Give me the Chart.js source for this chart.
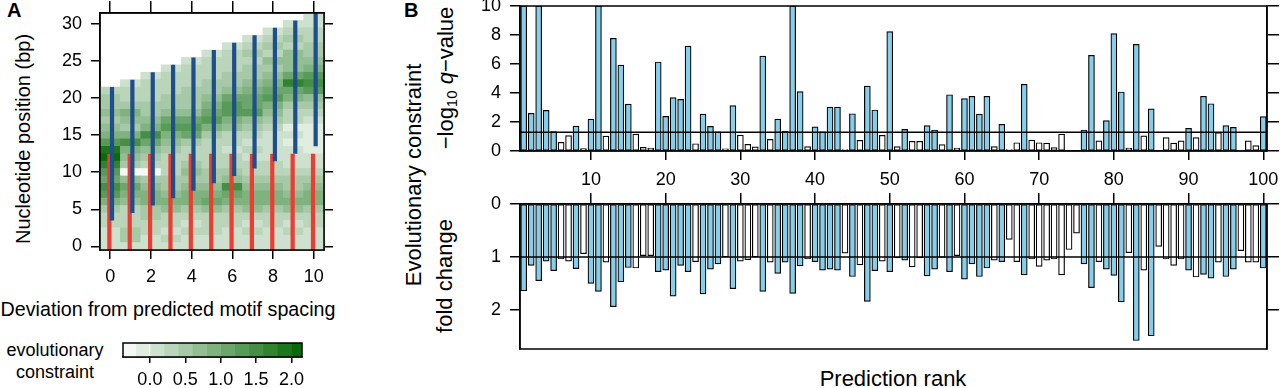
<!DOCTYPE html>
<html>
<head>
<meta charset="utf-8">
<script src="https://cdn.jsdelivr.net/npm/chart.js@4.4.1/dist/chart.umd.min.js"></script>
<style>
  body { margin: 0; width: 1280px; height: 388px; position: relative; overflow: hidden; background: #fff;
         font-family: 'Liberation Sans', Arial, sans-serif; color: #000; }
  canvas { position: absolute; }
  .t { position: absolute; white-space: nowrap; line-height: 1; }
  .rot { transform: translate(-50%, -50%) rotate(-90deg); }
  sub { font-size: 0.68em; vertical-align: -0.28em; line-height: 0; }
</style>
</head>
<body>
<div class="t" style="left:7px;top:0;font-size:20px;font-weight:bold">A</div>
<div class="t" style="left:404px;top:0;font-size:20px;font-weight:bold">B</div>

<div class="t rot" style="left:23px;top:139px;font-size:20px">Nucleotide position (bp)</div>
<div class="t" style="left:0;top:300px;width:336px;text-align:center;font-size:19.7px">Deviation from predicted motif spacing</div>
<div class="t" style="left:0;top:339px;width:110px;text-align:center;font-size:18px;line-height:22px">evolutionary<br>constraint</div>

<div class="t rot" style="left:414px;top:175px;font-size:22px">Evolutionary constraint</div>
<div class="t rot" style="left:446px;top:78px;font-size:22px">&minus;log<sub>10</sub> <i>q</i>&minus;value</div>
<div class="t rot" style="left:445px;top:276px;font-size:22px">fold change</div>
<div class="t" style="left:693px;top:368px;width:400px;text-align:center;font-size:22px">Prediction rank</div>

<canvas id="heat" width="340" height="300" style="left:0;top:0"></canvas>
<canvas id="cbar" width="200" height="55" style="left:113px;top:333px"></canvas>
<canvas id="qval" width="880" height="196" style="left:400px;top:0"></canvas>
<canvas id="fold" width="880" height="200" style="left:400px;top:190px"></canvas>

<script>
// ---- panel A: heat map of constraint per spacing deviation ----
const deviation = ['0', '1', '2', '3', '4', '5', '6', '7', '8', '9', '10'];
const devTicks = [0, 2, 4, 6, 8, 10];
const posTicks = [0, 5, 10, 15, 20, 25, 30];
const nucPos = Array.from({ length: 32 }, (_, i) => i);

// one list per deviation column, rows from position 0 upwards
const heat = [
  [0.0, 0.0, 0.1, 0.2, 0.3, 0.4, 0.8, 1.3, 1.5, 1.1, 1.2, 1.6, 2.0, 1.8, 1.2, 0.9, 0.6, 0.5, 0.6, 0.4, 0.5, 0.2],
  [0.0, 0.5, 0.4, 0.2, 0.3, 0.3, 0.7, 0.9, 1.0, 0.6, -0.4, 0.5, 0.7, 0.8, 1.5, 0.9, 0.5, 0.7, 0.8, 0.4, 0.3, 0.2, 0.1],
  [0.1, 0.1, 0.2, 0.3, 0.4, 0.5, 0.9, 0.8, 0.6, 0.4, -0.4, 0.3, 0.5, 0.6, 1.0, 1.4, 0.8, 0.6, 0.4, 0.5, 0.3, 0.2, 0.2, 0.1],
  [0.1, 0.2, 0.1, 0.3, 0.2, 0.6, 0.9, 0.7, 0.5, 0.4, 0.3, 0.2, 0.3, 0.4, 0.6, 0.8, 1.2, 1.0, 0.6, 0.4, 0.5, 0.3, 0.2, 0.3, 0.1],
  [0.0, 0.1, 0.2, 0.1, 0.3, 0.5, 0.8, 0.9, 0.6, 0.5, 0.7, 0.4, 0.2, 0.3, 0.5, 1.0, 1.3, 1.1, 0.7, 0.5, 0.4, 0.5, 0.3, 0.2, 0.2, 0.1],
  [0.1, 0.0, 0.2, 0.2, 0.3, 0.6, 1.0, 0.8, 0.7, 0.5, 0.4, 0.3, 0.2, 0.3, 0.2, 0.5, 0.9, 1.2, 1.1, 0.8, 0.6, 0.4, 0.5, 0.3, 0.2, 0.3, 0.1],
  [0.0, 0.1, 0.1, 0.2, 0.3, 0.5, 0.9, 1.0, 1.5, 0.7, 0.4, 0.3, 0.2, 0.1, 0.2, 0.3, 0.6, 0.9, 1.2, 1.3, 1.0, 0.6, 0.4, 0.5, 0.3, 0.2, 0.2, 0.1],
  [0.1, 0.1, 0.2, 0.1, 0.3, 0.6, 0.9, 0.8, 0.6, 0.5, 0.3, 0.2, 0.1, 0.2, 0.1, 0.2, 0.4, 0.7, 1.2, 1.0, 1.1, 0.8, 0.6, 0.5, 0.4, 0.3, 0.4, 0.2, 0.1],
  [0.0, 0.1, 0.1, 0.2, 0.3, 0.5, 0.8, 0.9, 0.6, 0.4, 0.3, 0.2, 0.1, 0.0, 0.1, 0.0, 0.2, 0.4, 0.6, 0.9, 1.2, 1.0, 0.8, 0.6, 0.5, 0.6, 0.3, 0.4, 0.2, 0.1],
  [0.1, 0.0, 0.2, 0.1, 0.3, 0.6, 0.9, 0.7, 0.5, 0.4, 0.2, 0.1, 0.0, 0.1, -0.1, 0.0, -0.1, 0.2, 0.3, 0.5, 0.8, 1.1, 1.6, 1.0, 0.7, 0.6, 0.7, 0.3, 0.4, 0.2, 0.1],
  [0.0, 0.1, 0.1, 0.2, 0.3, 0.5, 0.8, 0.9, 0.6, 0.4, 0.2, 0.1, 0.0, -0.1, -0.2, -0.1, -0.2, 0.0, 0.2, 0.5, 0.7, 1.3, 1.5, 1.2, 0.8, 0.6, 0.5, 0.4, 0.3, 0.2, 0.1, 0.0],
];

// motif spans drawn over each column
const redLow   = [-0.5, -0.5, -0.5, -0.5, -0.5, -0.5, -0.5, -0.5, -0.5, -0.5, -0.5];
const redHigh  = [12.5, 12.5, 12.5, 12.5, 12.5, 12.5, 12.5, 12.5, 12.5, 12.5, 12.5];
const blueLow  = [3.5, 4.5, 5.5, 6.5, 7.5, 8.5, 9.5, 10.5, 11.5, 12.5, 13.5];
const blueHigh = [21.5, 22.5, 23.5, 24.5, 25.5, 26.5, 27.5, 28.5, 29.5, 30.5, 31.5];

// colour key
const cbBins = [-0.4, -0.2, 0.0, 0.2, 0.4, 0.6, 0.8, 1.0, 1.2, 1.4, 1.6, 1.8, 2.0];
const cbStep = 0.2;
const cbTicks = [0.0, 0.5, 1.0, 1.5, 2.0];

// ---- panel B: top 100 predictions ----
const ranks = Array.from({ length: 100 }, (_, i) => String(i + 1));
const qThreshold = 1.3;
const foldRef = 1;
const qVals = [
  10, 2.6, 10, 2.8, 1.34, 0.6, 1.06, 1.72, 0.16, 2.2,
  10, 1.03, 7.77, 5.93, 3.24, 1.17, 0.25, 0.2, 6.14, 2.39,
  3.68, 3.56, 7.24, 0.5, 2.55, 1.7, 1.33, 0.15, 3.13, 1.1,
  0.46, 0.28, 6.55, 0.8, 2.2, 1.38, 10, 4.1, 0.3, 1.66,
  1.33, 3.03, 3.03, 0.1, 2.57, 0.74, 4.48, 2.83, 1.08, 8.23,
  0.3, 1.49, 0.67, 0.67, 1.75, 1.45, 0.44, 3.88, 0.2, 3.61,
  3.77, 2.55, 3.77, 0.3, 1.84, 0.1, 0.57, 4.6, 0.75, 0.57,
  0.55, 0.23, 1.17, 0, 0, 1.45, 6.6, 0.7, 2.1, 8.1,
  4.07, 0.2, 7.35, 1.05, 2.9, 0, 0.92, 0.55, 0.7, 1.56,
  0.92, 3.77, 3.26, 1.26, 1.75, 1.63, 0.05, 0.7, 0.37, 2.37,
];
const foldVals = [
  1.64, 1.16, 1.45, 1.08, 1.26, 1.04, 1.08, 1.22, 0.94, 1.5,
  1.65, 1.1, 1.94, 1.47, 1.2, 1.21, 0.975, 0.975, 1.28, 1.25,
  1.74, 1.16, 1.28, 1.09, 1.7, 1.23, 1.13, 1.0, 1.6, 1.08,
  1.05, 1.0, 1.65, 1.1, 1.31, 1.1, 1.69, 1.17, 1.04, 1.09,
  1.25, 1.23, 1.25, 0.93, 1.37, 1.15, 1.84, 1.26, 1.08, 1.28,
  1.02, 1.06, 1.19, 1.02, 1.36, 1.23, 1.01, 1.28, 0.975, 1.42,
  1.13, 1.37, 1.21, 1.06, 1.09, 0.67, 1.09, 1.34, 1.04, 1.18,
  1.06, 1.04, 1.34, 0.86, 0.55, 1.13, 1.58, 1.09, 1.23, 1.35,
  1.85, 0.92, 2.58, 1.25, 2.49, 0.8, 1.04, 1.16, 1.04, 1.25,
  1.38, 1.33, 1.4, 1.1, 1.37, 1.23, 0.88, 1.1, 1.1, 1.21,
];
const qTicks = [0, 2, 4, 6, 8, 10];
const foldTicks = [0, 1, 2];

// ---- styling helpers ----
Chart.defaults.font.family = "'Liberation Sans', Arial, sans-serif";
Chart.defaults.color = '#000';
const SKY = '#87CEEB';
const LW = 1.5;

function greenFor(v) {
  const i = Math.max(0, Math.min(cbBins.length - 1, Math.floor((v - cbBins[0]) / cbStep + 1e-6)));
  const t = (i + 0.5) / cbBins.length;
  const mix = (a, b) => Math.round(a + (b - a) * t);
  return `rgb(${mix(255, 0)},${mix(255, 100)},${mix(255, 0)})`;
}

function fix(prop, px) {
  return s => {
    s[prop] = px;
    s.paddingLeft = s.paddingRight = s.paddingTop = s.paddingBottom = 0;
  };
}

function setTicks(values) {
  return s => { s.ticks = values.map(v => ({ value: v })); };
}

const frame = {
  id: 'frame',
  afterDraw(chart) {
    const a = chart.chartArea, c = chart.ctx;
    c.save();
    c.strokeStyle = '#000';
    c.lineWidth = LW;
    c.strokeRect(a.left, a.top, a.right - a.left, a.bottom - a.top);
    c.restore();
  },
};

function axis(extra) {
  return Object.assign({
    grid: { drawOnChartArea: false, color: '#000', lineWidth: LW, tickLength: 9 },
    border: { color: '#000', width: LW },
    ticks: { font: { size: 18 }, color: '#000', autoSkip: false, maxRotation: 0 },
  }, extra);
}

const base = {
  responsive: false,
  animation: false,
  events: [],
  plugins: { legend: { display: false }, tooltip: { enabled: false } },
};

function segments(lo, hi, dx) {
  const pts = [];
  deviation.forEach((d, k) => {
    const x = Number(d) + dx;
    pts.push({ x, y: lo[k] }, { x, y: hi[k] }, { x, y: null });
  });
  return pts;
}

// ---- panel A chart ----
const heatSets = nucPos.map(r => ({
  type: 'bar',
  data: deviation.map((d, k) => (r < heat[k].length ? [r - 0.5, r + 0.5] : null)),
  backgroundColor: deviation.map((d, k) => (r < heat[k].length ? greenFor(heat[k][r]) : 'rgba(0,0,0,0)')),
  borderWidth: 0,
  barPercentage: 1,
  categoryPercentage: 1,
  grouped: false,
  order: 3,
  xAxisID: 'x',
  yAxisID: 'y',
}));

new Chart(document.getElementById('heat'), {
  data: {
    labels: deviation,
    datasets: [
      ...heatSets,
      { type: 'line', data: segments(redLow, redHigh, -0.04), xAxisID: 'xt', yAxisID: 'y',
        borderColor: '#EE3B33', borderWidth: 4.2, pointRadius: 0, spanGaps: false, borderCapStyle: 'butt', order: 2 },
      { type: 'line', data: segments(blueLow, blueHigh, 0.09), xAxisID: 'xt', yAxisID: 'y',
        borderColor: '#1F4E8C', borderWidth: 4.2, pointRadius: 0, spanGaps: false, borderCapStyle: 'butt', order: 1 },
    ],
  },
  options: Object.assign({}, base, {
    scales: {
      x: axis({
        type: 'category', position: 'bottom', offset: true,
        afterBuildTicks: s => { s.ticks = s.ticks.filter(t => devTicks.includes(Number(deviation[t.value]))); },
        grid: { offset: false, drawOnChartArea: false, color: '#000', lineWidth: LW, tickLength: 9 },
        ticks: { font: { size: 18 }, color: '#000', autoSkip: false, maxRotation: 0, padding: 7 },
        afterFit: fix('height', 50),
      }),
      xt: axis({
        type: 'linear', position: 'top', min: -0.5, max: 10.5, offset: false,
        afterBuildTicks: setTicks(devTicks),
        ticks: { display: false },
        grid: { drawOnChartArea: false, color: '#000', lineWidth: LW, tickLength: 12 },
        afterFit: fix('height', 13),
      }),
      y: axis({
        type: 'linear', position: 'left', min: -0.5, max: 31.5,
        afterBuildTicks: setTicks(posTicks),
        ticks: { font: { size: 18 }, color: '#000', padding: 9 },
        afterFit: fix('width', 100),
      }),
      yr: axis({
        type: 'linear', position: 'right', min: -0.5, max: 31.5,
        afterBuildTicks: setTicks(posTicks),
        ticks: { display: false },
        afterFit: fix('width', 16),
      }),
    },
  }),
  plugins: [frame],
});

// ---- colour key ----
new Chart(document.getElementById('cbar'), {
  type: 'bar',
  data: {
    labels: ['key'],
    datasets: cbBins.map(lo => ({
      data: [[lo, lo + cbStep]],
      backgroundColor: greenFor(lo + cbStep / 2),
      borderWidth: 0, barPercentage: 1, categoryPercentage: 1, grouped: false,
    })),
  },
  options: Object.assign({}, base, {
    indexAxis: 'y',
    layout: { padding: { left: 10, right: 11, top: 10 } },
    scales: {
      x: axis({
        type: 'linear', position: 'bottom', min: -0.38, max: 2.15,
        afterBuildTicks: setTicks(cbTicks),
        grid: { drawOnChartArea: false, color: '#000', lineWidth: LW, tickLength: 6 },
        ticks: { font: { size: 18 }, color: '#000', padding: 6, callback: v => Number(v).toFixed(1) },
        afterFit: fix('height', 31),
      }),
      y: { display: false },
    },
  }),
  plugins: [frame],
});

// ---- panel B charts ----
const barColors = qVals.map(v => (v > qThreshold ? SKY : '#fff'));
const rankTickFilter = s => { s.ticks = s.ticks.filter(t => Number(ranks[t.value]) % 10 === 0); };
const barStyle = {
  type: 'bar', backgroundColor: barColors, borderColor: '#000', borderWidth: 1.2,
  borderSkipped: false, barThickness: 6, grouped: false, order: 2, xAxisID: 'x', yAxisID: 'y',
};

new Chart(document.getElementById('qval'), {
  data: {
    labels: ranks,
    datasets: [
      Object.assign({ data: qVals }, barStyle),
      { type: 'line', data: [{ x: 0.5, y: qThreshold }, { x: 100.5, y: qThreshold }], xAxisID: 'xl', yAxisID: 'y',
        borderColor: '#000', borderWidth: LW, pointRadius: 0, order: 1 },
    ],
  },
  options: Object.assign({}, base, {
    layout: { padding: { top: 6 } },
    scales: {
      x: axis({
        type: 'category', position: 'bottom', offset: true,
        afterBuildTicks: rankTickFilter,
        grid: { offset: false, drawOnChartArea: false, color: '#000', lineWidth: LW, tickLength: 9 },
        ticks: { font: { size: 18 }, color: '#000', autoSkip: false, maxRotation: 0, padding: 9 },
        afterFit: fix('height', 45),
      }),
      xl: { type: 'linear', display: false, min: 0.5, max: 100.5, offset: false },
      y: axis({
        type: 'linear', position: 'left', min: 0, max: 10,
        afterBuildTicks: setTicks(qTicks),
        ticks: { font: { size: 18 }, color: '#000', padding: 9 },
        grid: { drawOnChartArea: false, color: '#000', lineWidth: LW, tickLength: 10 },
        afterFit: fix('width', 120),
      }),
      yr: axis({
        type: 'linear', position: 'right', min: 0, max: 10,
        afterBuildTicks: setTicks(qTicks),
        ticks: { display: false },
        grid: { drawOnChartArea: false, color: '#000', lineWidth: LW, tickLength: 12 },
        afterFit: fix('width', 13),
      }),
    },
  }),
  plugins: [frame],
});

new Chart(document.getElementById('fold'), {
  data: {
    labels: ranks,
    datasets: [
      Object.assign({ data: foldVals }, barStyle),
      { type: 'line', data: [{ x: 0.5, y: foldRef }, { x: 100.5, y: foldRef }], xAxisID: 'xl', yAxisID: 'y',
        borderColor: '#000', borderWidth: LW, pointRadius: 0, order: 1 },
    ],
  },
  options: Object.assign({}, base, {
    layout: { padding: { bottom: 41 } },
    scales: {
      x: axis({
        type: 'category', position: 'top', offset: true,
        afterBuildTicks: rankTickFilter,
        grid: { offset: false, drawOnChartArea: false, color: '#000', lineWidth: LW, tickLength: 11 },
        ticks: { display: false },
        afterFit: fix('height', 14),
      }),
      xl: { type: 'linear', display: false, min: 0.5, max: 100.5, offset: false },
      y: axis({
        type: 'linear', position: 'left', min: 0, max: 2.74, reverse: true,
        afterBuildTicks: setTicks(foldTicks),
        ticks: { font: { size: 18 }, color: '#000', padding: 9 },
        grid: { drawOnChartArea: false, color: '#000', lineWidth: LW, tickLength: 10 },
        afterFit: fix('width', 120),
      }),
      yr: axis({
        type: 'linear', position: 'right', min: 0, max: 2.74, reverse: true,
        afterBuildTicks: setTicks(foldTicks),
        ticks: { display: false },
        grid: { drawOnChartArea: false, color: '#000', lineWidth: LW, tickLength: 12 },
        afterFit: fix('width', 13),
      }),
    },
  }),
  plugins: [frame],
});
</script>
</body>
</html>
